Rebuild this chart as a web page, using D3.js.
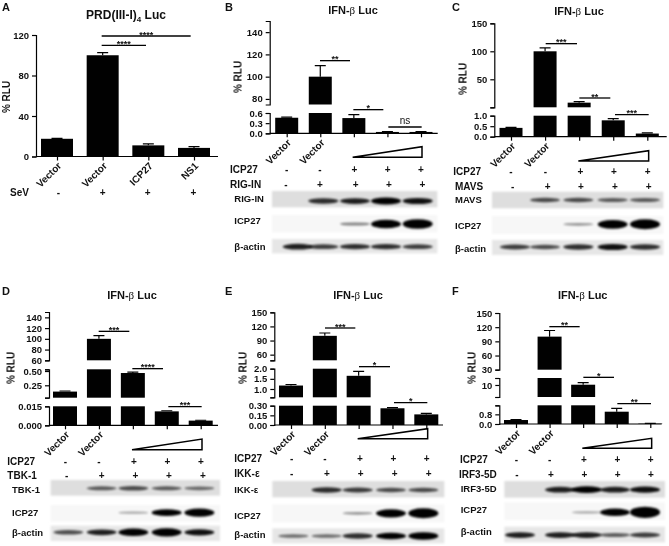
<!doctype html>
<html>
<head>
<style>
    body { margin: 0; background: #fff; }
    text { font-family: "Liberation Sans", Arial, sans-serif; font-weight: bold; fill: #111; }
    .tick text { font-size: 9.5px; }
    .domain, .tick line { stroke: #000; stroke-width: 1.2px; }
</style>
<script src="https://d3js.org/d3.v7.min.js"></script>
</head>
<body>
<svg width="669" height="546"></svg>
<script>
// values
var categoriesA = ["Vector", "Vector", "ICP27", "NS1"];
var categoriesRest = ["Vector", "Vector", "", "", ""];

var valuesA = [17.5, 100, 11, 8.5];
var errorsA = [18, 102.5, 12.5, 9.8];
var valuesB = [0.46, 100, 0.45, 0.04, 0.04];
var errorsB = [0.48, 110, 0.55, 0.05, 0.05];
var valuesC = [0.42, 100, 8.3, 0.78, 0.15];
var errorsC = [0.44, 106, 10, 0.86, 0.18];
var valuesD = [0.14, 100, 0.465, 0.011, 0.0037];
var errorsD = [0.15, 106, 0.48, 0.0115, 0.004];
var valuesE = [1.17, 100, 1.65, 0.26, 0.165];
var errorsE = [1.22, 106, 1.87, 0.27, 0.18];
var valuesF = [0.33, 100, 10.2, 1.02, 0.03];
var errorsF = [0.37, 113, 11.7, 1.3, 0.05];

var ticksA = [0, 40, 80, 120];
var labelsA = ["0", "40", "80", "120"];
var ticksB = [[0, 0.3, 0.6], [80, 100, 120, 140]];
var labelsB = [["0.0", "0.3", "0.6"], ["80", "100", "120", "140"]];
var ticksC = [[0, 0.5, 1], [0, 50, 100, 150]];
var labelsC = [["0.0", "0.5", "1.0"], ["", "50", "100", "150"]];
var ticksD = [[0, 0.015], [0.033, 0.25, 0.5, 0.53], [60, 80, 100, 120, 140]];
var labelsD = [["0.000", "0.015"], ["", "0.25", "0.50", ""], ["60", "80", "100", "120", "140"]];
var ticksE = [[0, 0.15, 0.3], [0.59, 1, 1.5, 2], [48, 60, 90, 120, 150]];
var labelsE = [["0.00", "0.15", "0.30"], ["", "1.0", "1.5", "2.0"], ["", "60", "90", "120", "150"]];
var ticksF = [[0, 0.8, 1.55], [1.4, 10, 15], [30, 60, 90, 120, 150]];
var labelsF = [["0.0", "0.8", ""], ["", "10", ""], ["30", "60", "90", "120", "150"]];

// blot band strength per lane, 0 = no band
var bandsB = [[0, .45, .5, .65, .55], [0, 0, .2, .85, .95], [.5, .4, .45, .45, .4]];
var bandsC = [[0, .35, .35, .3, .3], [0, 0, .15, .85, 1], [.4, .35, .45, .55, .45]];
var bandsD = [[0, .3, .35, .3, .25], [0, 0, .1, .6, .8], [.35, .5, .7, .8, .55]];
var bandsE = [[0, .45, .4, .35, .35], [0, 0, .15, .8, 1], [.25, .25, .45, .6, .7]];
var bandsF = [[0, .5, .6, .5, .55], [0, 0, .1, .7, 1.15], [.5, .5, .5, .3, .4]];

var panels = [
    { letter: "A", lx: 2, ly: 11, ox: 0, oy: 0, title: "PRD(III-I)", sub: "4", title2: " Luc", tsize: 12, tx: 126, ty: 19,
      ylabel: [6, 97], axisX: 36, right: 218, barW: 32, lanes: [57, 103, 148.5, 194], cats: categoriesA, vals: valuesA, errs: errorsA,
      segs: [{ domain: [0, 120], range: [156.5, 35], ticks: ticksA, labels: labelsA }],
      sig: [[305, 438, 136, "****"], [305, 572, 108, "****"]],
      rows: [{ name: "SeV", x: 30, y: 578, marks: [["-", 175], ["+", 308], ["+", 443], ["+", 580]] }] },
    { letter: "B", lx: 225, ly: 11, ox: 225, oy: 0, title: "IFN-", beta: true, title2: " Luc", tsize: 11, tx: 353, ty: 14,
      ylabel: [238, 77], axisX: 269.7, right: 437.7, barW: 23, lanes: [286.7, 320, 353.3, 387, 421], cats: categoriesRest, vals: valuesB, errs: errorsB,
      segs: [{ domain: [0, 0.6], range: [133.3, 113], ticks: ticksB[0], labels: labelsB[0] },
             { domain: [75, 150], range: [104.5, 21], ticks: ticksB[1], labels: labelsB[1] }],
      sig: [[285, 375, 182, "**"], [385, 475, 329, "*"], [490, 590, 381, "ns"]],
      tri: [383, 591, 472, 440],
      rows: [{ name: "ICP27", x: 15, y: 507, marks: [["-", 185], ["-", 285], ["+", 388], ["+", 488], ["+", 588]] },
             { name: "RIG-IN", x: 15, y: 554, marks: [["-", 183], ["+", 285], ["+", 392], ["+", 492], ["+", 592]] }],
      blot: { x: [141, 637], boxes: [[573, 622], [645, 697], [717, 760]], names: ["RIG-IN", "ICP27", "β-actin"], nameX: 28, nameY: [595, 662, 739],
              bandY: [603, 672, 740], lanes: [218, 295, 390, 483, 578], bands: bandsB } },
    { letter: "C", lx: 452, ly: 11, ox: 445, oy: 0, title: "IFN-", beta: true, title2: " Luc", tsize: 11, tx: 579, ty: 15,
      ylabel: [463, 79], axisX: 494.3, right: 666.7, barW: 23, lanes: [511, 545.3, 579.3, 613.3, 647.3], cats: categoriesRest, vals: valuesC, errs: errorsC,
      segs: [{ domain: [0, 1], range: [136.7, 115.7], ticks: ticksC[0], labels: labelsC[0] },
             { domain: [0, 150], range: [107.3, 23.3], ticks: ticksC[1], labels: labelsC[1] }],
      sig: [[302, 396, 131, "***"], [403, 496, 294, "**"], [510, 611, 344, "***"]],
      tri: [400, 611, 483, 452],
      rows: [{ name: "ICP27", x: 25, y: 515, marks: [["-", 198], ["-", 301], ["+", 406], ["+", 507], ["+", 608]] },
             { name: "MAVS", x: 30, y: 558, marks: [["-", 203], ["+", 308], ["+", 408], ["+", 510], ["+", 611]] }],
      blot: { x: [141, 655], boxes: [[575, 625], [648, 702], [720, 765]], names: ["MAVS", "ICP27", "β-actin"], nameX: 30, nameY: [597, 675, 746],
              bandY: [600, 673, 741], lanes: [210, 300, 400, 503, 600], bands: bandsC } },
    { letter: "D", lx: 2, ly: 295, ox: 0, oy: 275, title: "IFN-", beta: true, title2: " Luc", tsize: 11, tx: 132, ty: 299,
      ylabel: [11, 368], axisX: 49, right: 218, barW: 24, lanes: [65, 99, 133, 166.7, 200.7], cats: categoriesRest, vals: valuesD, errs: errorsD,
      segs: [{ domain: [0, 0.015], range: [425.3, 406.3], ticks: ticksD[0], labels: labelsD[0] },
             { domain: [0.033, 0.53], range: [397.7, 369.3], ticks: ticksD[1], labels: labelsD[1] },
             { domain: [60, 150], range: [360.3, 312], ticks: ticksD[2], labels: labelsD[2] }],
      sig: [[296, 388, 169, "***"], [397, 489, 281, "****"], [505, 605, 395, "***"]],
      tri: [396, 606, 524, 492],
      rows: [{ name: "ICP27", x: 22, y: 560, marks: [["-", 196], ["-", 297], ["+", 402], ["+", 502], ["+", 603]] },
             { name: "TBK-1", x: 22, y: 601, marks: [["-", 200], ["+", 305], ["+", 406], ["+", 507], ["+", 609]] }],
      blot: { x: [152, 660], boxes: [[615, 662], [690, 740], [752, 798]], names: ["TBK-1", "ICP27", "β-actin"], nameX: 36, nameY: [642, 711, 773],
              bandY: [640, 713, 772], lanes: [205, 305, 400, 500, 598], bands: bandsD } },
    { letter: "E", lx: 225, ly: 295, ox: 225, oy: 275, title: "IFN-", beta: true, title2: " Luc", tsize: 11, tx: 358, ty: 299,
      ylabel: [243, 368], axisX: 274.3, right: 443, barW: 24, lanes: [291, 325, 358.7, 392.7, 426.3], cats: categoriesRest, vals: valuesE, errs: errorsE,
      segs: [{ domain: [0, 0.3], range: [425, 405.7], ticks: ticksE[0], labels: labelsE[0] },
             { domain: [0.59, 2], range: [397.3, 368.7], ticks: ticksE[1], labels: labelsE[1] },
             { domain: [48, 150], range: [360.3, 312.3], ticks: ticksE[2], labels: labelsE[2] }],
      sig: [[300, 391, 159, "***"], [402, 495, 275, "*"], [507, 607, 383, "*"]],
      tri: [398, 608, 491, 461],
      rows: [{ name: "ICP27", x: 28, y: 550, marks: [["-", 200], ["-", 300], ["+", 405], ["+", 505], ["+", 605]] },
             { name: "IKK-ε", x: 28, y: 596, marks: [["-", 200], ["+", 306], ["+", 407], ["+", 509], ["+", 611]] }],
      blot: { x: [142, 658], boxes: [[618, 667], [688, 742], [760, 805]], names: ["IKK-ε", "ICP27", "β-actin"], nameX: 28, nameY: [642, 722, 778],
              bandY: [645, 715, 783], lanes: [205, 305, 398, 498, 595], bands: bandsE } },
    { letter: "F", lx: 452, ly: 295, ox: 445, oy: 275, title: "IFN-", beta: true, title2: " Luc", tsize: 11, tx: 582.7, ty: 299,
      ylabel: [472, 368], axisX: 499.3, right: 661.7, barW: 24, lanes: [516, 549.3, 583, 616.7, 650.3], cats: categoriesRest, vals: valuesF, errs: errorsF,
      segs: [{ domain: [0, 1.55], range: [424, 405.3], ticks: ticksF[0], labels: labelsF[0] },
             { domain: [1.4, 15], range: [397, 378], ticks: ticksF[1], labels: labelsF[1] },
             { domain: [30, 150], range: [369.7, 313], ticks: ticksF[2], labels: labelsF[2] }],
      sig: [[313, 404, 155, "**"], [415, 507, 307, "*"], [517, 618, 386, "**"]],
      tri: [412, 620, 520, 490],
      rows: [{ name: "ICP27", x: 45, y: 553, marks: [["-", 214], ["-", 314], ["+", 417], ["+", 517], ["+", 617]] },
             { name: "IRF3-5D", x: 42, y: 597, marks: [["-", 216], ["+", 318], ["+", 418], ["+", 518], ["+", 618]] }],
      blot: { x: [178, 660], boxes: [[618, 668], [682, 735], [755, 802]], names: ["IRF3-5D", "ICP27", "β-actin"], nameX: 47, nameY: [640, 703, 768],
              bandY: [644, 712, 780], lanes: [225, 345, 425, 510, 600], bands: bandsF } }
];

var boxFills = ["#dedede", "#f7f7f7", "#e6e6e6"];

var svg = d3.select("svg");

var defs = svg.append("defs");
defs.append("filter").attr("id", "soft").attr("x", "-30%").attr("y", "-150%").attr("width", "160%").attr("height", "400%")
    .append("feGaussianBlur").attr("stdDeviation", 1.2);
defs.append("filter").attr("id", "edge")
    .append("feGaussianBlur").attr("stdDeviation", 0.8);

var bandOpacity = d3.scaleLinear().domain([0, 0.6]).range([0.2, 1]).clamp(true);
var bandHeight = d3.scaleLinear().domain([0, 1]).range([1.5, 10]);

panels.forEach(drawPanel);

function drawPanel(p) {
    // layout numbers for sig bars, rows and blots were measured on a 3x crop of each panel
    var px = function(v) { return p.ox + v / 3; };
    var py = function(v) { return p.oy + v / 3; };
    var g = svg.append("g").style("opacity", 0.999);

    g.append("text").attr("x", p.lx).attr("y", p.ly).attr("font-size", "11px").text(p.letter);

    var title = g.append("text").attr("x", p.tx).attr("y", p.ty).attr("text-anchor", "middle")
        .attr("font-size", p.tsize + "px").text(p.title);
    if (p.sub) {
        title.append("tspan").attr("dy", 3).attr("font-size", "8px").text(p.sub);
        title.append("tspan").attr("dy", -3).text(p.title2);
    }
    if (p.beta) {
        title.append("tspan").style("font-family", "'Liberation Serif', serif").style("font-weight", "normal").text("β");
        title.append("tspan").text(p.title2);
    }

    g.append("text")
        .attr("transform", "translate(" + (p.ylabel[0] + 3.5) + "," + p.ylabel[1] + ") rotate(-90)")
        .attr("text-anchor", "middle").attr("font-size", "10px").text("% RLU");

    var x = d3.scalePoint().domain(d3.range(p.vals.length)).range([p.lanes[0], p.lanes[p.lanes.length - 1]]);

    p.segs.forEach(function(seg, si) {
        var y = d3.scaleLinear().domain(seg.domain).range(seg.range);
        // a value belongs to this piece only if it clears the piece below it
        var floor = si > 0 ? Math.max(seg.domain[0], p.segs[si - 1].domain[1]) : seg.domain[0];

        p.vals.forEach(function(v, i) {
            if (v <= floor) return;
            var top = y(Math.min(v, seg.domain[1]));
            g.append("rect")
                .attr("x", x(i) - p.barW / 2).attr("width", p.barW)
                .attr("y", top).attr("height", seg.range[0] - top)
                .attr("fill", "#000");

            // upper error bar, in the piece that holds the bar top
            var e = p.errs[i];
            if (v <= seg.domain[1]) {
                g.append("path")
                    .attr("d", "M" + x(i) + "," + y(v) + "V" + y(e) + "M" + (x(i) - 5.5) + "," + y(e) + "H" + (x(i) + 5.5))
                    .attr("fill", "none").attr("stroke", "#000").attr("stroke-width", 1.2);
            }
        });

        var axis = d3.axisLeft(y).tickValues(seg.ticks).tickSizeOuter(0).tickSize(4)
            .tickFormat(function(d, i) { return seg.labels[i]; });
        g.append("g").attr("transform", "translate(" + p.axisX + ",0)").call(axis);
    });

    // baseline with lane ticks
    var baseY = p.segs[0].range[0];
    var bottom = g.append("g").attr("transform", "translate(0," + baseY + ")")
        .call(d3.axisBottom(x).tickSizeOuter(0).tickSize(4).tickFormat(""));
    bottom.select(".domain").attr("d", "M" + p.axisX + ",0H" + p.right);

    g.selectAll("text.cat").data(p.cats).enter().append("text").attr("class", "cat")
        .attr("text-anchor", "end").attr("font-size", "10px")
        .attr("transform", function(d, i) { return "translate(" + (x(i) + 5) + "," + (baseY + 10) + ") rotate(-45)"; })
        .text(function(d) { return d; });

    p.sig.forEach(function(s) {
        var ns = s[3] === "ns";
        g.append("line").attr("x1", px(s[0])).attr("x2", px(s[1])).attr("y1", py(s[2])).attr("y2", py(s[2]))
            .attr("stroke", "#000").attr("stroke-width", 1.3);
        g.append("text").attr("x", px((s[0] + s[1]) / 2))
            .attr("y", py(s[2]) + (ns ? -3 : 1.5))
            .attr("text-anchor", "middle")
            .attr("font-size", ns ? "10px" : "9px")
            .style("font-weight", ns ? "normal" : "bold")
            .text(s[3]);
    });

    if (p.tri) {
        g.append("path")
            .attr("d", "M" + px(p.tri[0]) + "," + py(p.tri[2]) + "L" + px(p.tri[1]) + "," + py(p.tri[3]) + "V" + py(p.tri[2]) + "Z")
            .attr("fill", "#fff").attr("stroke", "#000").attr("stroke-width", 1.5);
    }

    p.rows.forEach(function(r) {
        g.append("text").attr("x", px(r.x)).attr("y", py(r.y) + 3.5).attr("font-size", "10px").text(r.name);
        r.marks.forEach(function(m) {
            g.append("text").attr("x", px(m[1])).attr("y", py(r.y) + 3.5).attr("text-anchor", "middle")
                .attr("font-size", "10px").text(m[0]);
        });
    });

    if (p.blot) drawBlot(g, p, px, py);
}

function drawBlot(g, p, px, py) {
    var b = p.blot;
    b.boxes.forEach(function(box, row) {
        g.append("rect").attr("x", px(b.x[0])).attr("width", (b.x[1] - b.x[0]) / 3)
            .attr("y", py(box[0])).attr("height", (box[1] - box[0]) / 3)
            .attr("fill", boxFills[row]).attr("filter", "url(#edge)");
        g.selectAll(null).data(b.bands[row]).enter().append("ellipse")
            .attr("cx", function(d, i) { return px(b.lanes[i]); })
            .attr("rx", 15)
            .attr("cy", py(b.bandY[row]))
            .attr("ry", function(d) { return bandHeight(d) / 2; })
            .attr("fill", "#000")
            .attr("opacity", function(d) { return d ? bandOpacity(d) : 0; })
            .attr("filter", "url(#soft)");
        g.append("text").attr("x", px(b.nameX)).attr("y", py(b.nameY[row]) + 3.5)
            .attr("font-size", "9.5px").text(b.names[row]);
    });
}
</script>
</body>
</html>
